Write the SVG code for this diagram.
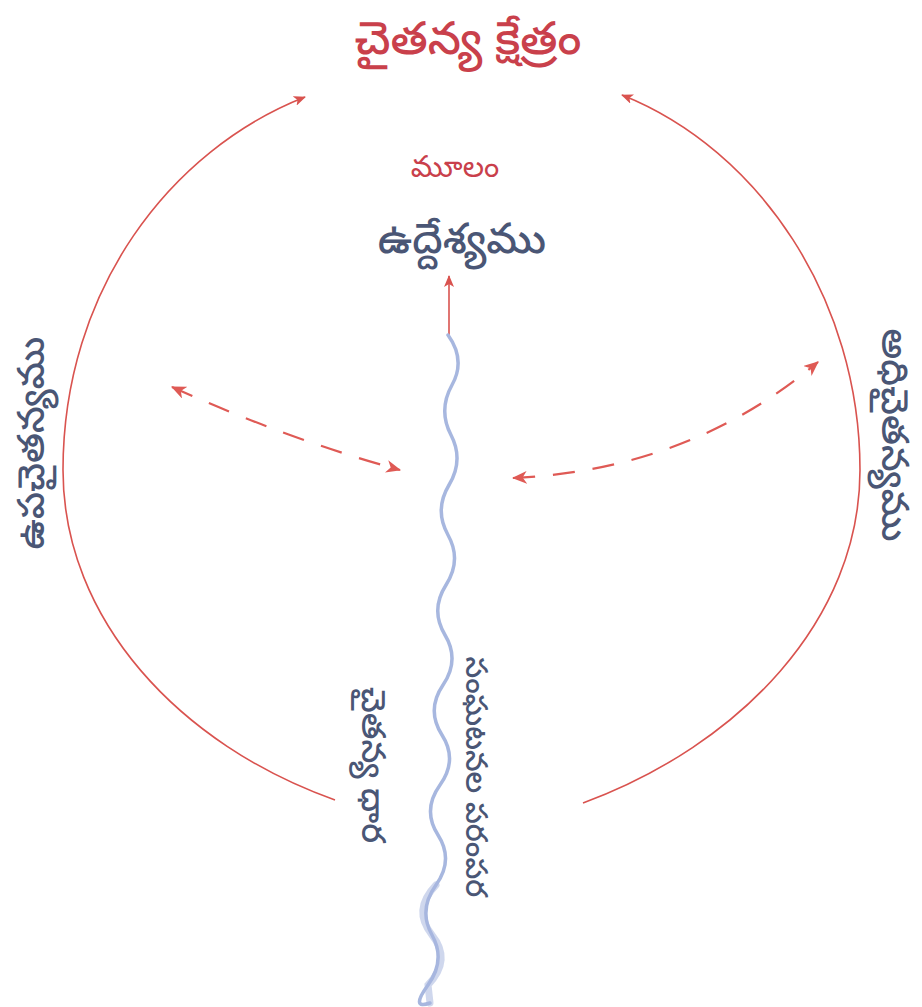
<svg xmlns="http://www.w3.org/2000/svg" width="922" height="1007" viewBox="0 0 922 1007">
<style>
.red{fill:#c9404b;font-family:"Noto Sans Telugu","Noto Sans",sans-serif;}
.blue{fill:#4a5675;font-family:"Noto Sans Telugu","Noto Sans",sans-serif;}
.arc{fill:none;stroke:#d9534f;stroke-width:1.6;}
.dash{fill:none;stroke:#df5a55;stroke-width:2.2;stroke-dasharray:22 18;}
.wave{fill:none;stroke:#a7b7df;stroke-linecap:round;}
</style>
<defs>
<marker id="ah" viewBox="0 0 12 10" refX="11" refY="5" markerWidth="12" markerHeight="10" markerUnits="userSpaceOnUse" orient="auto-start-reverse">
<path d="M0,0 L12,5 L0,10 L3,5 Z" fill="#d9534f"/>
</marker>
<marker id="ahd" viewBox="0 0 14 12" refX="13" refY="6" markerWidth="15" markerHeight="13" markerUnits="userSpaceOnUse" orient="auto-start-reverse">
<path d="M0,0 L14,6 L0,12 L4,6 Z" fill="#df5a55"/>
</marker>
</defs>
<rect width="922" height="1007" fill="#ffffff"/>
<g id="connectors">
<path class="arc" d="M335,800 C180,745 63,620 63,470 C63,290 170,150 305,97" marker-end="url(#ah)"/>
<path class="arc" d="M583,803 C740,745 860,620 860,470 C860,300 760,150 622,95" marker-end="url(#ah)"/>
<path class="arc" d="M449,337 L449,276" marker-end="url(#ah)"/>
<path class="dash" d="M172,387 Q290,440 400,470" marker-start="url(#ahd)" marker-end="url(#ahd)"/>
<path class="dash" d="M513,478 Q690,470 818,362" marker-start="url(#ahd)" marker-end="url(#ahd)"/>
</g>
<g id="stream">
<path class="wave" stroke-width="3.5" d="M448,335 Q466,360 452,385 T451,435 T449,485 T448,535 T446,585 T445,635 T443,685 T442,735 T440,785 T438,835 T436,885 T432,935 T428,985 T430,1003"/>
<path class="wave" stroke-width="7" opacity="0.55" d="M436,885 Q412,910 432,935 Q452,960 428,985 L430,1003"/>
</g>
<g id="title"><text class="red" x="468" y="54" font-size="46" font-weight="500" text-anchor="middle">చైతన్య క్షేత్రం</text></g>
<g id="source"><text class="red" x="455" y="177" font-size="30" text-anchor="middle">మూలం</text></g>
<g id="intention"><text class="blue" x="462" y="253" font-size="42" font-weight="500" text-anchor="middle">ఉద్దేశ్యము</text></g>
<g id="subconscious"><text class="blue" transform="translate(44,443) rotate(-90)" font-size="37" font-weight="500" text-anchor="middle">ఉపచైతన్యము</text></g>
<g id="superconscious"><text class="blue" transform="translate(882,435) rotate(90)" font-size="37" font-weight="500" text-anchor="middle">అధిచైతన్యము</text></g>
<g id="stream-left"><text class="blue" transform="translate(362,765) rotate(90)" font-size="33" font-weight="500" text-anchor="middle">చైతన్య ధార</text></g>
<g id="stream-right"><text class="blue" transform="translate(466,777) rotate(90)" font-size="30" font-weight="500" text-anchor="middle">సంఘటనల పరంపర</text></g>
</svg>
